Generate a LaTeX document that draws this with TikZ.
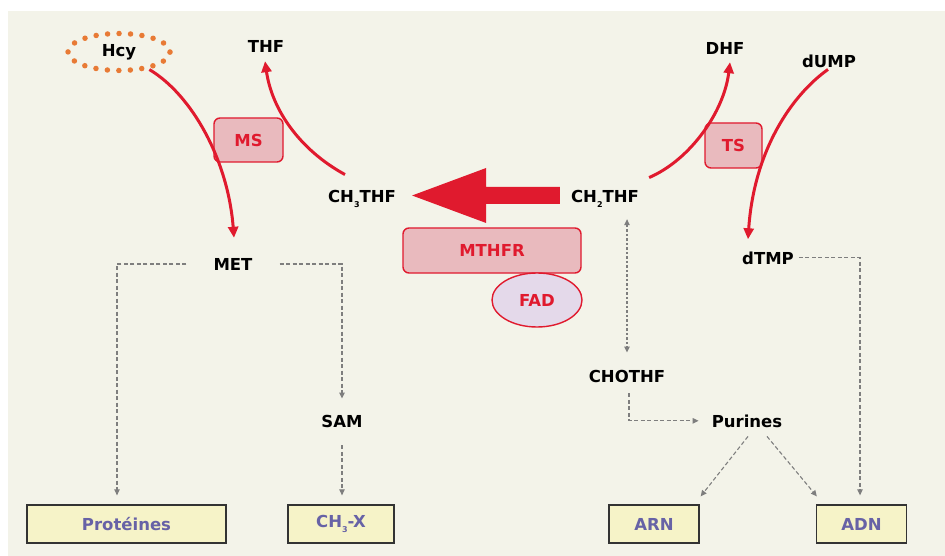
\documentclass[tikz,border=0pt]{standalone}
\usepackage{fontspec}
\setmainfont{DejaVu Sans}
\usetikzlibrary{arrows.meta,shapes.geometric,calc}
\definecolor{bg}{HTML}{F3F3E9}
\definecolor{myred}{HTML}{E01A2E}
\definecolor{pinkfill}{HTML}{E9BABE}
\definecolor{fadfill}{HTML}{E4D9EA}
\definecolor{dotorange}{HTML}{E87A35}
\definecolor{boxfill}{HTML}{F6F3C8}
\definecolor{boxtext}{HTML}{6762A6}
\definecolor{dgray}{HTML}{7E7E7E}
\newcommand{\mysub}[1]{\raisebox{-0.55ex}{\fontsize{8}{8}\selectfont #1}}
\begin{document}
\begin{tikzpicture}[x=1pt,y=-1pt,
  bigfont/.style={font=\fontsize{16.5}{19}\selectfont\bfseries},
  lbl/.style={bigfont, inner sep=1pt, text=black, anchor=base},
  enz/.style={bigfont, draw=myred, line width=1.4pt, fill=pinkfill, rounded corners=6pt, text=myred, inner sep=0pt},
  endbox/.style={bigfont, draw=black!80, line width=1.3pt, fill=boxfill, text=boxtext, inner sep=0pt, minimum height=38pt},
  redarr/.style={draw=myred, line width=3pt, -{Triangle[length=11pt,width=10pt]}},
  gtip/.tip={Triangle[length=6pt,width=5.5pt]},
  graydash/.style={draw=dgray, line width=1.1pt, dash pattern=on 4pt off 2.5pt, -gtip}
]
\useasboundingbox (0,0) rectangle (945,556);
\fill[white] (0,0) rectangle (945,556);
\fill[bg] (8,11) rectangle (945,556);

% metabolite labels
\node[ellipse, bigfont, minimum width=102pt, minimum height=37pt, inner sep=0pt,
      draw=dotorange, line width=5.5pt, dash pattern=on 0pt off 11.5pt, line cap=round] (hcy) at (119,52) {Hcy};
\node[lbl] (thf) at (266,53) {THF};
\node[lbl] (ch3) at (362,203) {CH\mysub{3}THF};
\node[lbl] (met) at (233,270) {MET};
\node[lbl] (ch2) at (605,203) {CH\mysub{2}THF};
\node[lbl] (dhf) at (725,55) {DHF};
\node[lbl] (dump) at (829,68) {dUMP};
\node[lbl] (dtmp) at (768,264) {dTMP};
\node[lbl] (sam) at (342,427) {SAM};
\node[lbl] (chothf) at (627,382) {CHOTHF};
\node[lbl] (purines) at (747,427) {Purines};

% enzymes
\node[enz, minimum width=69pt, minimum height=44pt] (ms) at (248.5,140) {MS};
\node[enz, minimum width=57pt, minimum height=45pt] (ts) at (733.5,145.5) {TS};
\node[enz, minimum width=178pt, minimum height=45pt] (mthfr) at (492,250.5) {MTHFR};
\node[ellipse, bigfont, draw=myred, line width=1.4pt, fill=fadfill, text=myred, inner sep=0pt,
      minimum width=90pt, minimum height=54pt] (fad) at (537,300) {FAD};

% end products
\node[endbox, minimum width=199pt] (prot) at (126.5,524) {Protéines};
\node[endbox, minimum width=106pt] (ch3x) at (341,524) {CH\mysub{3}-X};
\node[endbox, minimum width=90pt] (arn) at (654,524) {ARN};
\node[endbox, minimum width=90pt] (adn) at (861.5,524) {ADN};

% big MTHFR arrow
\coordinate (bt) at ($(ch2.base west)+(-10,-7.5)$);
\coordinate (bh) at ($(ch3.base east)+(15,-7.5)$);
\fill[myred] ($(bt)+(0,-8.5)$) -- ($(bh)+(74,-8.5)$) -- ($(bh)+(74,-27.5)$) -- (bh)
  -- ($(bh)+(74,27.5)$) -- ($(bh)+(74,8.5)$) -- ($(bt)+(0,8.5)$) -- cycle;

% red reaction arrows
\draw[redarr] (hcy.-30) .. controls (192,95) and (228,160) .. ($(met.north)+(1,-19)$);
\draw[redarr] ($(ch3.north)+(-17,-15)$) .. controls (300,150) and (272,110) .. ($(thf.south)+(-1,7)$);
\draw[redarr] ($(ch2.north east)+(9,-12)$) .. controls (690,160) and (724,112) .. ($(dhf.south)+(5,6)$);
\draw[redarr] ($(dump.south)+(-1,0)$) .. controls (792,95) and (754,150) .. ($(dtmp.north)+(-20,-11)$);

% grey dashed connectors
\draw[graydash] ($(met.west)+(-26,0)$) -| ($(prot.north)+(-9.5,-9)$);
\draw[graydash] ($(met.east)+(26,0)$) -| ($(sam.north)+(0,-15)$);
\draw[graydash] ($(sam.south)+(0,17)$) -- ($(ch3x.north)+(1,-9)$);
\draw[graydash, gtip-gtip, dash pattern=on 2.5pt off 2pt] ($(chothf.north |- ch2.south)+(0,10)$) -- ($(chothf.north)+(0,-16)$);
\draw[graydash] ($(chothf.south)+(2,10)$) |- ($(purines.west)+(-12,0)$);
\draw[graydash] ($(purines.south)+(1,8)$) -- ($(arn.north east)+(1,-8)$);
\draw[graydash] ($(purines.south)+(20,8)$) -- ($(adn.north west)+(1,-8)$);
\draw[graydash] ($(dtmp.east)+(4,0)$) -| ($(adn.north)+(-1.5,-9)$);
\end{tikzpicture}
\end{document}
